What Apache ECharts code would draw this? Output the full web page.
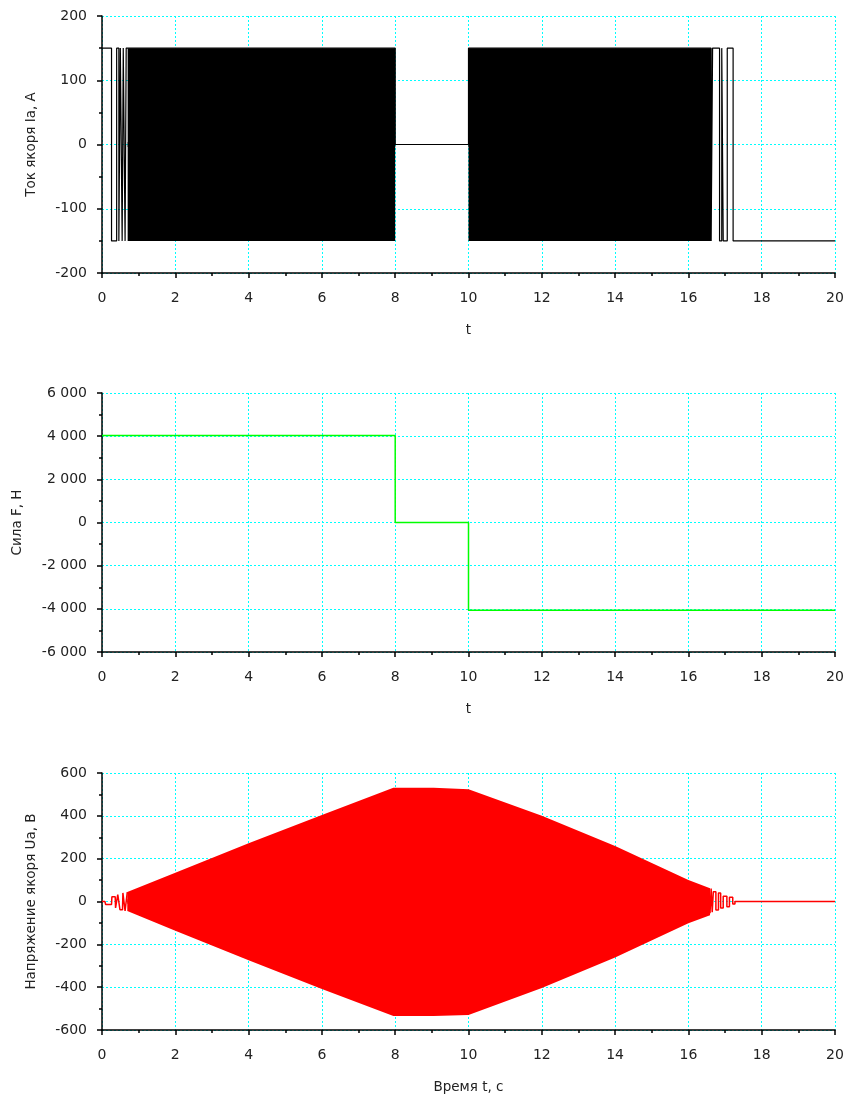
<!DOCTYPE html>
<html><head><meta charset="utf-8">
<script src="https://cdn.jsdelivr.net/npm/echarts@6/dist/echarts.min.js"></script>
<style>html,body{margin:0;padding:0;background:#fff}#c{width:847px;height:1097px}</style>
</head><body><div id="c"></div>
<script>
// ---------- Data ----------
const xTicks = [0, 2, 4, 6, 8, 10, 12, 14, 16, 18, 20];
const iaTicks = [-200, -100, 0, 100, 200];
const fTicks = [-6000, -4000, -2000, 0, 2000, 4000, 6000];
const uaTicks = [-600, -400, -200, 0, 200, 400, 600];

// Armature current: switching instants (zero-order hold) and levels
const iaTime  = [0, 0.26, 0.40, 0.46, 0.50, 0.55, 0.58, 0.63, 0.66, 8.0, 10.0, 16.62, 16.66, 16.85, 16.91, 16.95, 17.06, 17.22, 20];
const iaLevel = [150, -150, 150, -150, 150, -150, 150, -150, 150, 0, 150, -150, 150, -150, 150, -150, 150, -150, -150];
// dense switching regions (envelope)
const iaBandT     = [0.70, 8.0, null, 10.0, 16.62];
const iaBandUpper = [150, 150, null, 150, 150];
const iaBandLower = [-150, -150, null, -150, -150];

// Force
const fTime  = [0, 8, 10, 20];
const fLevel = [4030, 0, -4060, -4060];

// Armature voltage: start transient
const uaStartT = [0, 0.08, 0.10, 0.26, 0.27, 0.36, 0.37, 0.42, 0.43, 0.48, 0.49, 0.56, 0.57, 0.62, 0.63, 0.68, 0.69];
const uaStartV = [0, 0, -14, -14, 22, 22, -30, -30, 32, 32, -38, -38, 40, 40, -44, -44, 44];
// dense switching region envelope
const uaBandT     = [0.69, 2, 4, 6, 7.95, 9.05, 9.1, 10.0, 12, 14, 16, 16.59];
const uaBandUpper = [44, 134, 272, 404, 531, 531, 524, 524, 400, 259, 100, 62];
const uaBandLower = [-44, -136, -274, -408, -535, -535, -530, -530, -404, -262, -102, -64];
// end transient
const uaTailT = [16.59, 16.62, 16.65, 16.68, 16.75, 16.82, 16.88, 16.95, 17.05, 17.12, 17.21, 17.27, 20];
const uaTailV = [-55, 60, -50, 46, -40, 40, -30, 25, -24, 20, -12, 0, 0];

// ---------- Chart ----------
const zip = (a, b) => a.map((v, i) => (v === null ? [null, null] : [v, b[i]]));
const font = 'DejaVu Sans, sans-serif';
const gridDefs = [
  {left: 102, right: 12, top: 16, bottom: 824},
  {left: 102, right: 12, top: 393, bottom: 445},
  {left: 102, right: 12, top: 773, bottom: 67}
];
const fmtSpace = v => {
  const s = Math.abs(v).toString().replace(/\B(?=(\d{3})+(?!\d))/g, ' ');
  return (v < 0 ? '-' : '') + s;
};
const axisCommon = {
  z: 0,
  axisLine: {onZero: false, lineStyle: {color: '#000', width: 1.5}},
  axisTick: {show: true, length: 5, lineStyle: {color: '#000', width: 1.5}},
  minorTick: {show: true, splitNumber: 2, length: 3, lineStyle: {color: '#000', width: 1.5}},
  splitLine: {show: true, lineStyle: {color: '#00ffff', type: [2, 2], width: 1}},
  minorSplitLine: {show: false},
  axisLabel: {color: '#222', fontSize: 14, fontFamily: font},
  nameTextStyle: {color: '#222', fontSize: 13.5, fontFamily: font}
};
const xNames = ['t', 't', 'Время t, с'];
const yNames = ['Ток якоря Ia, А', 'Сила F, Н', 'Напряжение якоря Ua, В'];
const yRanges = [
  {min: iaTicks[0], max: iaTicks[iaTicks.length - 1], interval: 100},
  {min: fTicks[0], max: fTicks[fTicks.length - 1], interval: 2000},
  {min: uaTicks[0], max: uaTicks[uaTicks.length - 1], interval: 200}
];
const yGaps = [64, 78, 64];

const xAxis = [0, 1, 2].map(i => Object.assign({}, axisCommon, {
  type: 'value', gridIndex: i, min: xTicks[0], max: xTicks[xTicks.length - 1], interval: 2,
  name: xNames[i], nameLocation: 'middle', nameGap: 50,
  axisLabel: Object.assign({}, axisCommon.axisLabel, {margin: 18})
}));
const yAxis = [0, 1, 2].map(i => Object.assign({}, axisCommon, yRanges[i], {
  type: 'value', gridIndex: i,
  name: yNames[i], nameLocation: 'middle', nameGap: yGaps[i], nameRotate: 90,
  axisLabel: Object.assign({}, axisCommon.axisLabel, {margin: 15, formatter: i === 1 ? fmtSpace : (v => String(v))})
}));

const lineBase = {type: 'line', showSymbol: false, symbol: 'none', animation: false, connectNulls: false, z: 10};
// upper/lower fills overlap slightly around zero so no seam shows
const series = [
  Object.assign({}, lineBase, {xAxisIndex: 0, yAxisIndex: 0, data: zip(iaBandT, iaBandUpper),
    lineStyle: {width: 0}, areaStyle: {color: '#000', opacity: 1, origin: -4}}),
  Object.assign({}, lineBase, {xAxisIndex: 0, yAxisIndex: 0, data: zip(iaBandT, iaBandLower),
    lineStyle: {width: 0}, areaStyle: {color: '#000', opacity: 1, origin: 4}}),
  Object.assign({}, lineBase, {xAxisIndex: 0, yAxisIndex: 0, data: zip(iaTime, iaLevel), step: 'end',
    lineStyle: {color: '#000', width: 1.2}}),
  Object.assign({}, lineBase, {xAxisIndex: 1, yAxisIndex: 1, data: zip(fTime, fLevel), step: 'end',
    lineStyle: {color: '#00ff00', width: 1.5}}),
  Object.assign({}, lineBase, {xAxisIndex: 2, yAxisIndex: 2, data: zip(uaBandT, uaBandUpper),
    lineStyle: {width: 0}, areaStyle: {color: '#ff0000', opacity: 1, origin: -10}}),
  Object.assign({}, lineBase, {xAxisIndex: 2, yAxisIndex: 2, data: zip(uaBandT, uaBandLower),
    lineStyle: {width: 0}, areaStyle: {color: '#ff0000', opacity: 1, origin: 10}}),
  Object.assign({}, lineBase, {xAxisIndex: 2, yAxisIndex: 2, data: zip(uaStartT, uaStartV),
    lineStyle: {color: '#ff0000', width: 1.5}}),
  Object.assign({}, lineBase, {xAxisIndex: 2, yAxisIndex: 2, data: zip(uaTailT, uaTailV), step: 'end',
    lineStyle: {color: '#ff0000', width: 1.5}})
];

const chart = echarts.init(document.getElementById('c'), null, {renderer: 'canvas'});
chart.setOption({
  backgroundColor: '#fff',
  animation: false,
  grid: gridDefs,
  xAxis: xAxis,
  yAxis: yAxis,
  series: series
});
</script>
</body></html>
